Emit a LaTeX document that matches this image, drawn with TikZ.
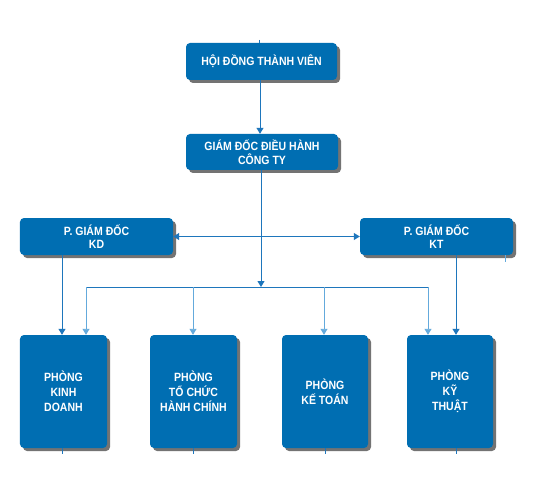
\documentclass[tikz,border=0pt]{standalone}
\usepackage{fontspec}
\setmainfont{Liberation Sans}[FakeStretch=0.88]
\usetikzlibrary{arrows.meta,shadows,positioning}
\definecolor{boxblue}{RGB}{0,110,178}
\definecolor{linkblue}{RGB}{30,118,188}
\definecolor{lightlink}{RGB}{100,170,220}
\tikzset{
  orgbox/.style={draw=none, fill=boxblue, rounded corners=4bp, text=white,
    font=\bfseries\fontsize{12}{13.5}\selectfont, align=center, inner sep=0pt,
    drop shadow={shadow xshift=3bp, shadow yshift=-3bp, fill=black, opacity=0.55}},
  deptbox/.style={orgbox, minimum height=113bp, font=\bfseries\fontsize{12}{15}\selectfont},
  link/.style={draw=linkblue, line width=1bp},
  lightline/.style={draw=lightlink, line width=0.9bp},
  tip/.style={-{Triangle[length=6bp,width=7bp]}},
}
\begin{document}
\begin{tikzpicture}[x=1bp,y=-1bp]
\useasboundingbox (0,0) rectangle (539,493);
\fill[white] (0,0) rectangle (539,493);
% stubs
\coordinate (s0) at (259,40);
\coordinate (s1) at (62,454);
\coordinate (s2) at (193,454);
\coordinate (s3) at (325,454);
\coordinate (s4) at (456,454);
\coordinate (s5) at (505,262);
\coordinate (bus) at (261,287);
\coordinate (busL) at (86,287);
\coordinate (busR) at (428,287);
\coordinate (busB) at (193,287);
\coordinate (busC) at (324,287);

\node[orgbox, minimum width=151bp, minimum height=37bp] (hdtv) at (261.5,61.5) {HỘI ĐỒNG THÀNH VIÊN};
\node[orgbox, minimum width=152bp, minimum height=36bp] (gd) at (262,152) {GIÁM ĐỐC ĐIỀU HÀNH\\CÔNG TY};
\node[orgbox, minimum width=153bp, minimum height=37bp] (kd) at (96.5,236.5) {P. GIÁM ĐỐC\\KD};
\node[orgbox, minimum width=153bp, minimum height=37bp] (kt) at (436.5,236.5) {P. GIÁM ĐỐC\\KT};
\node[deptbox, minimum width=87bp] (p1) at (63.5,391.5) {PHÒNG\\KINH\\DOANH};
\node[deptbox, minimum width=87bp] (p2) at (193.5,391.5) {PHÒNG\\TỔ CHỨC\\HÀNH CHÍNH};
\node[deptbox, minimum width=86bp] (p3) at (325,391.5) {PHÒNG\\KẾ TOÁN};
\node[deptbox, minimum width=86bp] (p4) at (450,391.5) {PHÒNG\\KỸ\\THUẬT};

% stubs
\draw[link] (s0) -- (s0 |- hdtv.north);
\draw[link] (p1.south -| s1) -- (s1);
\draw[link] (p2.south -| s2) -- (s2);
\draw[link] (p3.south -| s3) -- (s3);
\draw[link] (p4.south -| s4) -- (s4);
\draw[lightline] (kt.south -| s5) -- (s5);

% main connectors
\draw[link,tip] (hdtv.south -| 260,0) -- (gd.north -| 260,0);
\draw[link,tip] (gd.south -| bus) -- (bus);
\draw[link,{Triangle[length=6bp,width=7bp]}-{Triangle[length=6bp,width=7bp]}] (kd.east) -- (kt.west);
\draw[link] (busL) -- (busR);
\draw[lightline,tip] (busL) -- (busL |- p1.north);
\draw[lightline,tip] (busB) -- (busB |- p2.north);
\draw[lightline,tip] (busC) -- (busC |- p3.north);
\draw[lightline,tip] (busR) -- (busR |- p4.north);
\draw[link,tip] (kd.south -| 62,0) -- (p1.north -| 62,0);
\draw[link,tip] (kt.south -| 456,0) -- (p4.north -| 456,0);
\end{tikzpicture}
\end{document}
